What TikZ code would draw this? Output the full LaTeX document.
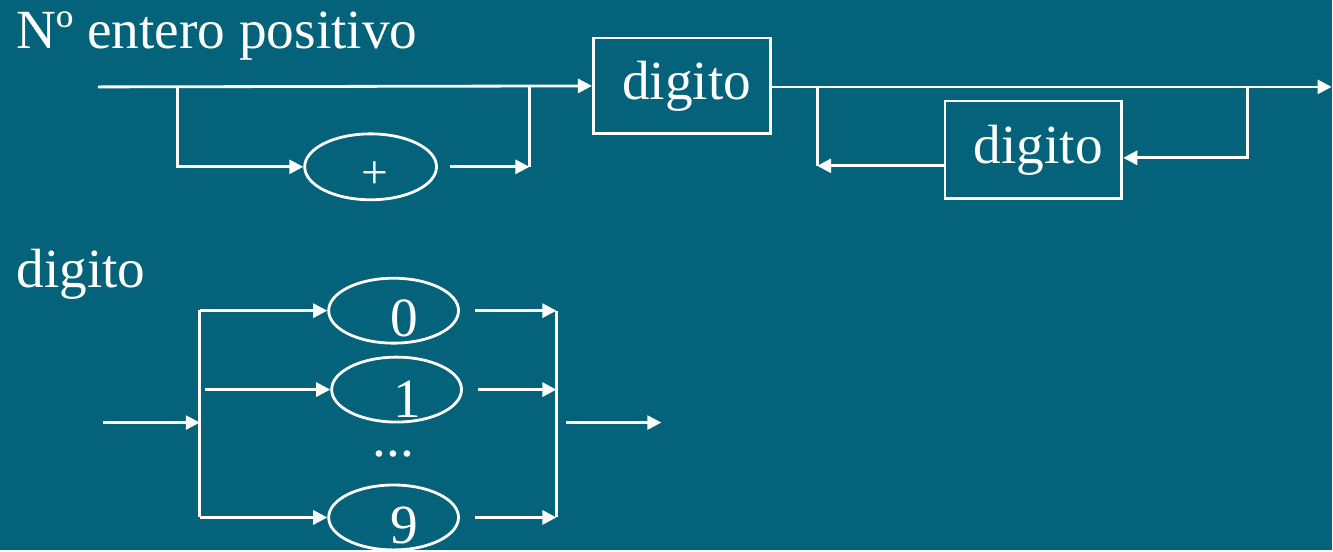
\documentclass[tikz,border=0pt]{standalone}
\usepackage{fontspec}
\setmainfont{Liberation Serif}
\usetikzlibrary{arrows.meta, shapes, positioning}
\definecolor{slidebg}{RGB}{4,98,122}

\begin{document}
\begin{tikzpicture}[x=0.02cm, y=-0.02cm, line width=1.6pt, color=white,
                    font=\fontsize{31.5}{36}\selectfont,
                    box node/.style= {rectangle,
                      draw,
                      minimum width=3.54cm,
                      minimum height=1.92cm,
                      inner sep=0pt},
                    oval node/.style= {ellipse,
                      draw,
                      minimum width=2.6cm,
                      minimum height=1.3cm,
                      inner sep=0pt},
                    arr/.style={-{Triangle[length=8pt,width=8pt]}}]

  \fill[slidebg] (0,0) rectangle (1333,551);

  % Nº entero positivo
  \node[anchor=base west, inner sep=0pt] (title) at (15,49) {Nº entero positivo};
  \coordinate (start) at (98,87);
  \coordinate (split) at (178,87);
  \coordinate (join) at (530,87);
  \coordinate (joinlow) at (530,167);
  \node[oval node, minimum width=2.64cm, minimum height=1.32cm] (plus) at (371,167)
    {\hspace{0.16cm}\smash{\raisebox{-0.44cm}{\fontsize{27}{30}\selectfont+}}};
  \coordinate (plusout) at (450,167);
  \node[box node] (d1) at (682.5,86) {\hspace{0.2cm}digito};
  \coordinate (loopin) at (818,87);
  \coordinate (looplow) at (818,166);
  \coordinate (loopout) at (1249,87);
  \coordinate (end) at (1333,87);
  \node[box node, minimum height=1.96cm] (d2) at (1034.5,150) {\hspace{0.2cm}digito};

  \draw[arr] (start) -- (d1.west);
  \draw[arr] (split) |- (plus.west);
  \draw[arr] (plusout) -- (joinlow);
  \draw (join) -- (joinlow);
  \draw[arr] (d1.east |- end) -- (end);
  \draw[arr] (loopout) |- ([yshift=-0.16cm]d2.east);
  \draw[arr] (d2.west |- looplow) -- (looplow);
  \draw (loopin) -- (looplow);

  % digito
  \node[anchor=base west, inner sep=0pt] (label) at (15,288) {digito};
  \coordinate (in) at (103,423);
  \coordinate (fork) at (200,423);
  \coordinate (forktop) at (200,310);
  \coordinate (forkbot) at (200,518);
  \node[oval node] (o0) at (394,311) {\hspace{0.44cm}\smash{\raisebox{-0.52cm}{0}}};
  \node[oval node] (o1) at (397,390) {\hspace{0.44cm}\smash{\raisebox{-0.56cm}{1}}};
  \node[anchor=base, inner sep=0pt] (dots) at (394,457) {...};
  \node[oval node] (o9) at (394,518) {\hspace{0.44cm}\smash{\raisebox{-0.52cm}{9}}};
  \coordinate (mergetop) at (557,311);
  \coordinate (merge) at (557,423);
  \coordinate (mergebot) at (557,518);
  \coordinate (out) at (662,423);

  \draw[arr] (in) -- (fork);
  \draw (forktop) -- (forkbot);
  \draw[arr] (forktop |- o0.west) -- (o0.west);
  \draw[arr] ([xshift=0.1cm]fork |- o1.west) -- (o1.west);
  \draw[arr] (forkbot |- o9.west) -- (o9.west);
  \draw[arr] ([xshift=0.3cm]o0.east) -- (mergetop |- o0.east);
  \draw[arr] ([xshift=0.3cm]o1.east) -- (merge |- o1.east);
  \draw[arr] ([xshift=0.3cm]o9.east) -- (mergebot |- o9.east);
  \draw (mergetop) -- (mergebot);
  \draw[arr] ([xshift=0.2cm]merge) -- (out);
\end{tikzpicture}
\end{document}
